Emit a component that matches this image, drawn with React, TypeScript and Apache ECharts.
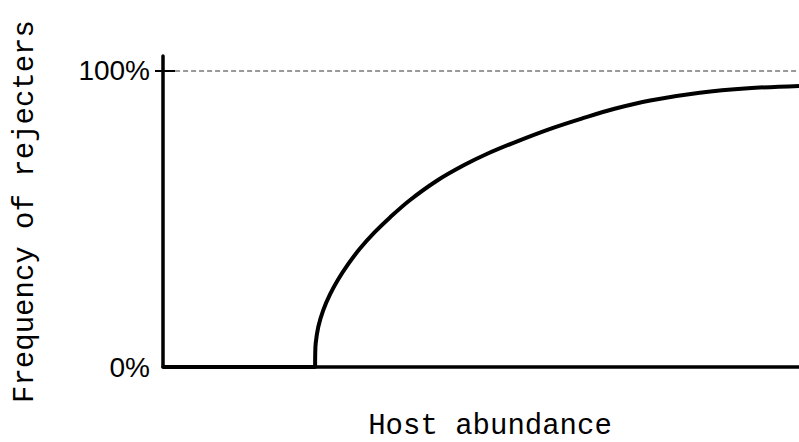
import React, { useEffect, useRef } from "react";
import * as echarts from "echarts";

const hostAbundance = [0, 23.9, 23.93, 24.01, 24.42, 25.2, 26.26, 27.56, 29.14, 30.97, 33.33, 35.69, 38.8, 43.0, 47.2, 50.9, 55.7, 61, 66, 71, 76.6, 84.4, 92, 100];
const rejecterFreq = [0, 0, 4, 8, 13.6, 19.2, 24.5, 29.6, 34.8, 40.0, 45.6, 50.5, 56.3, 62.8, 68.0, 71.9, 76.2, 80.5, 84.0, 87.2, 90.0, 92.6, 94.1, 94.9];
const yTickLabels = [0, 100];
const referenceLevel = 100;

const monoFont = "'Courier New', Courier, 'Nimbus Mono PS', 'Liberation Mono', monospace";

export default function App() {
  const ref = useRef<HTMLDivElement>(null);
  useEffect(() => {
    const chart = echarts.init(ref.current!, null, { renderer: "svg" });
    const data = hostAbundance.map((x, i) => [x, rejecterFreq[i]]);
    chart.setOption({
      animation: false,
      grid: { left: 163, right: 0, top: 56, bottom: 75, containLabel: false, outerBoundsMode: "none" },
      xAxis: {
        type: "value",
        min: 0,
        max: 100,
        name: "Host abundance",
        nameLocation: "middle",
        nameGap: 45,
        nameTextStyle: { fontFamily: monoFont, fontSize: 29, color: "#000", padding: [0, 0, 0, 18] },
        axisLine: { show: true, lineStyle: { color: "#000", width: 3.5 } },
        axisTick: { show: false },
        axisLabel: { show: false },
        splitLine: { show: false },
      },
      yAxis: [
        {
          type: "value",
          min: 0,
          max: 105,
          name: "Frequency of rejecters",
          nameLocation: "middle",
          nameGap: 123,
          nameTextStyle: { fontFamily: monoFont, fontSize: 29, color: "#000" },
          axisLine: { show: true, lineStyle: { color: "#000", width: 3.5 } },
          axisTick: { show: true, customValues: [referenceLevel], length: 8, lineStyle: { color: "#000", width: 2 } },
          axisLabel: {
            show: true,
            customValues: yTickLabels,
            formatter: "{value}%",
            margin: 13,
            fontFamily: "'Liberation Sans', Arial, sans-serif",
            fontSize: 28,
            color: "#000",
          },
          splitLine: { show: false },
        },
        {
          type: "value",
          min: 0,
          max: 105,
          position: "left",
          axisLine: { show: false },
          axisTick: { show: true, inside: true, customValues: [referenceLevel], length: 12, lineStyle: { color: "#000", width: 2 } },
          axisLabel: { show: false },
          splitLine: { show: false },
        },
      ],
      series: [
        {
          type: "line",
          data,
          showSymbol: false,
          symbol: "none",
          smooth: 0.35,
          lineStyle: { color: "#000", width: 4, join: "round" },
          markLine: {
            silent: true,
            symbol: "none",
            label: { show: false },
            lineStyle: { color: "#999", type: [5, 3], width: 2 },
            data: [[{ coord: [1.9, referenceLevel] }, { coord: [100, referenceLevel] }]],
          },
        },
      ],
    });
    return () => chart.dispose();
  }, []);
  return (
    <div
      ref={ref}
      style={{ position: "fixed", left: 0, top: 0, width: 799, height: 442, background: "#fff" }}
    />
  );
}
